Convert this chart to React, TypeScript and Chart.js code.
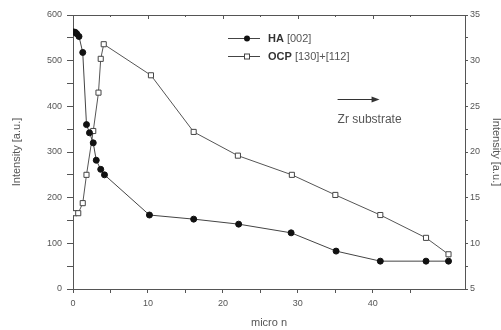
import React, { useEffect, useRef } from 'react';
import { Chart, registerables } from 'chart.js';

Chart.register(...registerables);

// HA [002] – left axis
const haX = [0.1, 0.3, 0.5, 0.8, 1.3, 1.8, 2.2, 2.7, 3.1, 3.7, 4.2, 10.2, 16.1, 22.1, 29.1, 35.1, 41, 47.1, 50.1];
const haY = [563, 562, 559, 553, 518, 360, 342, 320, 282, 262, 250, 162, 153, 142, 123, 83, 61, 61, 61];

// OCP [130]+[112] – right axis
const ocpX = [0.2, 0.7, 1.3, 1.8, 2.7, 3.4, 3.7, 4.1, 10.4, 16.1, 22, 29.2, 35, 41, 47.1, 50.1];
const ocpY = [13.3, 13.3, 14.4, 17.5, 22.3, 26.5, 30.2, 31.8, 28.4, 22.2, 19.6, 17.5, 15.3, 13.1, 10.6, 8.8];

const xTitle = 'micro n';
const yTitle = 'Intensity [a.u.]';
const haLabel = ['HA', ' [002]'];
const ocpLabel = ['OCP', ' [130]+[112]'];
const noteText = 'Zr substrate';

const FAMILY = '"Liberation Sans", Arial, sans-serif';
const GREY = '#555';

export default function App() {
  const ref = useRef<HTMLCanvasElement>(null);

  useEffect(() => {
    const canvas = ref.current;
    if (!canvas) return;

    const tickFont = { family: FAMILY, size: 9 };
    const titleFont = { family: FAMILY, size: 11 };

    const deco = {
      id: 'deco',
      afterDraw(chart: any) {
        const { ctx, chartArea: a, scales } = chart;
        ctx.save();
        ctx.strokeStyle = GREY;
        ctx.lineWidth = 1;
        // top frame line with inward ticks
        ctx.beginPath();
        ctx.moveTo(a.left, a.top + 0.5);
        ctx.lineTo(a.right, a.top + 0.5);
        scales.x.ticks.forEach((t: any) => {
          const px = Math.round(scales.x.getPixelForValue(t.value)) + 0.5;
          const len = Math.abs(t.value % 10) < 1e-6 ? 4 : 2;
          ctx.moveTo(px, a.top);
          ctx.lineTo(px, a.top + len);
        });
        ctx.stroke();

        // legend
        const lx0 = 228, lx1 = 260, mx = 247, tx = 268;
        const rows = [
          { y: 38, label: haLabel, circle: true },
          { y: 56, label: ocpLabel, circle: false },
        ];
        rows.forEach((r) => {
          ctx.strokeStyle = '#444';
          ctx.beginPath();
          ctx.moveTo(lx0, r.y + 0.5);
          ctx.lineTo(lx1, r.y + 0.5);
          ctx.stroke();
          if (r.circle) {
            ctx.fillStyle = '#111';
            ctx.beginPath();
            ctx.arc(mx, r.y + 0.5, 3, 0, Math.PI * 2);
            ctx.fill();
          } else {
            ctx.fillStyle = '#fff';
            ctx.fillRect(mx - 3, r.y - 2.5, 6, 6);
            ctx.strokeRect(mx - 2.5, r.y - 2, 5, 5);
          }
          ctx.fillStyle = '#333';
          ctx.textBaseline = 'middle';
          ctx.textAlign = 'left';
          ctx.font = `bold 11px ${FAMILY}`;
          ctx.fillText(r.label[0], tx, r.y + 1);
          const w = ctx.measureText(r.label[0]).width;
          ctx.font = `11px ${FAMILY}`;
          ctx.fillStyle = '#555';
          ctx.fillText(r.label[1], tx + w, r.y + 1);
        });

        // arrow + note, positioned via scales
        const ax0 = scales.x.getPixelForValue(35.3);
        const ax1 = scales.x.getPixelForValue(40.9);
        const ay = Math.round(scales.y1.getPixelForValue(25.8)) + 0.5;
        ctx.strokeStyle = '#333';
        ctx.beginPath();
        ctx.moveTo(ax0, ay);
        ctx.lineTo(ax1 - 4, ay);
        ctx.stroke();
        ctx.fillStyle = '#333';
        ctx.beginPath();
        ctx.moveTo(ax1, ay);
        ctx.lineTo(ax1 - 8, ay - 3);
        ctx.lineTo(ax1 - 8, ay + 3);
        ctx.closePath();
        ctx.fill();
        ctx.font = `12px ${FAMILY}`;
        ctx.fillStyle = '#555';
        ctx.textBaseline = 'middle';
        ctx.fillText(noteText, ax0, scales.y1.getPixelForValue(23.5));
        ctx.restore();
      },
    };

    const chart = new Chart(canvas, {
      type: 'line',
      data: {
        datasets: [
          {
            label: 'HA [002]',
            data: haX.map((x, i) => ({ x, y: haY[i] })),
            yAxisID: 'y',
            borderColor: '#444',
            borderWidth: 1,
            pointStyle: 'circle',
            pointRadius: 3,
            pointBackgroundColor: '#111',
            pointBorderColor: '#111',
            pointBorderWidth: 1,
            tension: 0,
          },
          {
            label: 'OCP [130]+[112]',
            data: ocpX.map((x, i) => ({ x, y: ocpY[i] })),
            yAxisID: 'y1',
            borderColor: '#555',
            borderWidth: 1,
            pointStyle: 'rect',
            pointRadius: 3.6,
            pointBackgroundColor: '#fff',
            pointBorderColor: '#444',
            pointBorderWidth: 1,
            tension: 0,
          },
        ],
      },
      options: {
        responsive: false,
        animation: false,
        layout: { padding: { top: 15, left: 0, right: 0, bottom: 0 } },
        plugins: { legend: { display: false }, tooltip: { enabled: false } },
        scales: {
          x: {
            type: 'linear',
            position: 'bottom',
            min: 0,
            max: 52.3,
            afterBuildTicks: (s: any) => {
              s.ticks = s.ticks.filter((t: any) => Math.abs(t.value / 5 - Math.round(t.value / 5)) < 1e-6);
            },
            afterFit: (s: any) => { s.height = 41; },
            ticks: {
              stepSize: 5,
              autoSkip: false,
              maxRotation: 0,
              color: GREY,
              font: tickFont,
              padding: 5,
              callback: (v: any) => (Math.abs(v % 10) < 1e-6 ? String(v) : ''),
            },
            grid: { drawOnChartArea: false, drawTicks: true, tickLength: 4, color: GREY },
            border: { display: true, color: GREY },
            title: { display: true, text: xTitle, color: GREY, font: titleFont, padding: { top: 0, bottom: 0 } },
          },
          y: {
            type: 'linear',
            position: 'left',
            min: 0,
            max: 600,
            afterFit: (s: any) => { s.width = 73; },
            ticks: {
              stepSize: 50,
              autoSkip: false,
              color: GREY,
              font: tickFont,
              padding: 5,
              callback: (v: any) => (Math.abs(v % 100) < 1e-6 ? String(v) : ''),
            },
            grid: { drawOnChartArea: false, drawTicks: true, tickLength: 6, color: GREY },
            border: { display: true, color: GREY },
            title: { display: true, text: yTitle, color: GREY, font: titleFont, padding: { top: 10, bottom: 0 } },
          },
          y1: {
            type: 'linear',
            position: 'right',
            min: 5,
            max: 35,
            afterFit: (s: any) => { s.width = 36; },
            ticks: {
              stepSize: 2.5,
              autoSkip: false,
              color: GREY,
              font: tickFont,
              padding: 2,
              callback: (v: any) => (Math.abs(v % 5) < 1e-6 ? String(v) : ''),
            },
            grid: { drawOnChartArea: false, drawTicks: true, tickLength: 3, color: GREY },
            border: { display: true, color: GREY },
            title: { display: true, text: yTitle, color: GREY, font: titleFont, padding: { top: -2, bottom: 0 } },
          },
        },
      },
      plugins: [deco],
    });

    return () => chart.destroy();
  }, []);

  return (
    <canvas
      ref={ref}
      width={501}
      height={330}
      style={{ position: 'absolute', left: 0, top: 0, width: 501, height: 330, background: '#fff' }}
    />
  );
}
